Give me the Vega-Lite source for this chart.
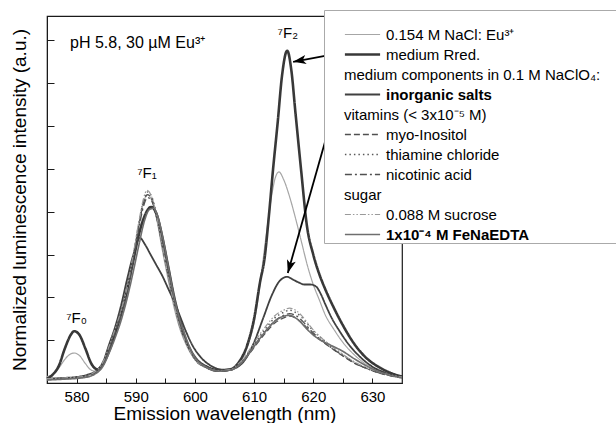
{
"$schema": "https://vega.github.io/schema/vega-lite/v6.json",
"width": 355, "height": 367,
"autosize": {"type": "none"},
"padding": {"left": 47, "top": 16, "right": 214, "bottom": 40},
"background": "white",
"config": {
 "font": "Liberation Sans",
 "view": {"stroke": "#1a1a1a", "strokeWidth": 1.2},
 "axis": {"domainColor": "#1a1a1a", "tickColor": "#1a1a1a", "grid": false, "labelColor": "black", "titleColor": "black", "labelFont": "Liberation Sans", "titleFont": "Liberation Sans", "titleFontWeight": "normal"},
 "legend": {"orient": "none", "legendX": 277, "legendY": -6, "titleFontSize": 8, "titlePadding": 9, "symbolType": "M-4.4,0H4.4", "symbolSize": 64, "symbolOffset": 31, "labelOffset": 16, "labelFontSize": 15, "labelFont": "Liberation Sans", "labelColor": "black", "labelLimit": 800, "rowPadding": 4, "padding": 0, "fillColor": "white", "strokeColor": "#aaaaaa"}
},
"datasets": {
 "spectra": [
{"series":"nacl","wavelength":575,"intensity":0.15},{"series":"nacl","wavelength":576,"intensity":0.2},{"series":"nacl","wavelength":577,"intensity":0.35},{"series":"nacl","wavelength":578,"intensity":0.55},{"series":"nacl","wavelength":579,"intensity":0.68},{"series":"nacl","wavelength":579.6,"intensity":0.7},{"series":"nacl","wavelength":580.5,"intensity":0.64},{"series":"nacl","wavelength":581.5,"intensity":0.45},{"series":"nacl","wavelength":582.5,"intensity":0.3},{"series":"nacl","wavelength":583.5,"intensity":0.27},{"series":"nacl","wavelength":584.5,"intensity":0.45},{"series":"nacl","wavelength":585.5,"intensity":0.8},{"series":"nacl","wavelength":586.5,"intensity":1.2},{"series":"nacl","wavelength":587.5,"intensity":1.6},{"series":"nacl","wavelength":588.5,"intensity":2.1},{"series":"nacl","wavelength":589.5,"intensity":2.9},{"series":"nacl","wavelength":590.5,"intensity":3.7},{"series":"nacl","wavelength":591.3,"intensity":4.2},{"series":"nacl","wavelength":591.9,"intensity":4.4},{"series":"nacl","wavelength":592.6,"intensity":4.3},{"series":"nacl","wavelength":593.5,"intensity":3.85},{"series":"nacl","wavelength":594.5,"intensity":3.1},{"series":"nacl","wavelength":595.5,"intensity":2.4},{"series":"nacl","wavelength":596.5,"intensity":1.75},{"series":"nacl","wavelength":597.5,"intensity":1.25},{"series":"nacl","wavelength":598.5,"intensity":0.9},{"series":"nacl","wavelength":600,"intensity":0.55},{"series":"nacl","wavelength":602,"intensity":0.35},{"series":"nacl","wavelength":604,"intensity":0.28},{"series":"nacl","wavelength":606,"intensity":0.3},{"series":"nacl","wavelength":607.5,"intensity":0.45},{"series":"nacl","wavelength":609,"intensity":0.9},{"series":"nacl","wavelength":610,"intensity":1.4},{"series":"nacl","wavelength":611,"intensity":2.3},{"series":"nacl","wavelength":612,"intensity":3.4},{"series":"nacl","wavelength":613,"intensity":4.4},{"series":"nacl","wavelength":613.6,"intensity":4.8},{"series":"nacl","wavelength":614.2,"intensity":4.93},{"series":"nacl","wavelength":615,"intensity":4.75},{"series":"nacl","wavelength":616,"intensity":4.35},{"series":"nacl","wavelength":617,"intensity":3.85},{"series":"nacl","wavelength":618,"intensity":3.3},{"series":"nacl","wavelength":619,"intensity":2.75},{"series":"nacl","wavelength":620,"intensity":2.3},{"series":"nacl","wavelength":621,"intensity":1.95},{"series":"nacl","wavelength":622,"intensity":1.6},{"series":"nacl","wavelength":623.5,"intensity":1.25},{"series":"nacl","wavelength":625,"intensity":0.95},{"series":"nacl","wavelength":627,"intensity":0.65},{"series":"nacl","wavelength":629,"intensity":0.43},{"series":"nacl","wavelength":631,"intensity":0.28},{"series":"nacl","wavelength":633,"intensity":0.2},{"series":"nacl","wavelength":635,"intensity":0.13},
{"series":"rred","wavelength":575,"intensity":0.1},{"series":"rred","wavelength":576,"intensity":0.2},{"series":"rred","wavelength":577,"intensity":0.4},{"series":"rred","wavelength":578,"intensity":0.8},{"series":"rred","wavelength":579,"intensity":1.12},{"series":"rred","wavelength":579.6,"intensity":1.21},{"series":"rred","wavelength":580.5,"intensity":1.12},{"series":"rred","wavelength":581.5,"intensity":0.8},{"series":"rred","wavelength":582.5,"intensity":0.45},{"series":"rred","wavelength":583.5,"intensity":0.32},{"series":"rred","wavelength":584.5,"intensity":0.45},{"series":"rred","wavelength":585.5,"intensity":0.75},{"series":"rred","wavelength":586.5,"intensity":1.15},{"series":"rred","wavelength":587.5,"intensity":1.6},{"series":"rred","wavelength":588.5,"intensity":2.15},{"series":"rred","wavelength":589.5,"intensity":2.8},{"series":"rred","wavelength":590.5,"intensity":3.45},{"series":"rred","wavelength":591.5,"intensity":3.9},{"series":"rred","wavelength":592.6,"intensity":4.11},{"series":"rred","wavelength":593.5,"intensity":3.95},{"series":"rred","wavelength":594.5,"intensity":3.4},{"series":"rred","wavelength":595.5,"intensity":2.7},{"series":"rred","wavelength":596.5,"intensity":2.0},{"series":"rred","wavelength":597.5,"intensity":1.45},{"series":"rred","wavelength":598.5,"intensity":1.0},{"series":"rred","wavelength":600,"intensity":0.6},{"series":"rred","wavelength":602,"intensity":0.38},{"series":"rred","wavelength":604,"intensity":0.3},{"series":"rred","wavelength":606,"intensity":0.32},{"series":"rred","wavelength":607.5,"intensity":0.5},{"series":"rred","wavelength":609,"intensity":0.95},{"series":"rred","wavelength":610,"intensity":1.5},{"series":"rred","wavelength":611,"intensity":2.35},{"series":"rred","wavelength":611.8,"intensity":2.94},{"series":"rred","wavelength":612.5,"intensity":3.9},{"series":"rred","wavelength":613.2,"intensity":4.98},{"series":"rred","wavelength":614,"intensity":6.1},{"series":"rred","wavelength":614.7,"intensity":7.15},{"series":"rred","wavelength":615.6,"intensity":7.76},{"series":"rred","wavelength":616.3,"intensity":7.3},{"series":"rred","wavelength":617,"intensity":6.3},{"series":"rred","wavelength":618,"intensity":4.9},{"series":"rred","wavelength":618.9,"intensity":3.7},{"series":"rred","wavelength":620,"intensity":3.0},{"series":"rred","wavelength":621,"intensity":2.55},{"series":"rred","wavelength":622,"intensity":2.2},{"series":"rred","wavelength":623.5,"intensity":1.75},{"series":"rred","wavelength":625,"intensity":1.35},{"series":"rred","wavelength":627,"intensity":0.9},{"series":"rred","wavelength":629,"intensity":0.58},{"series":"rred","wavelength":631,"intensity":0.38},{"series":"rred","wavelength":633,"intensity":0.24},{"series":"rred","wavelength":635,"intensity":0.15},
{"series":"inorg","wavelength":575,"intensity":0.1},{"series":"inorg","wavelength":578,"intensity":0.12},{"series":"inorg","wavelength":580,"intensity":0.14},{"series":"inorg","wavelength":582,"intensity":0.2},{"series":"inorg","wavelength":583.5,"intensity":0.3},{"series":"inorg","wavelength":584.5,"intensity":0.5},{"series":"inorg","wavelength":585.5,"intensity":0.9},{"series":"inorg","wavelength":586.5,"intensity":1.3},{"series":"inorg","wavelength":587.5,"intensity":1.8},{"series":"inorg","wavelength":588.5,"intensity":2.4},{"series":"inorg","wavelength":589.5,"intensity":2.95},{"series":"inorg","wavelength":590.7,"intensity":3.39},{"series":"inorg","wavelength":591.5,"intensity":3.25},{"series":"inorg","wavelength":592.5,"intensity":3.0},{"series":"inorg","wavelength":593.5,"intensity":2.75},{"series":"inorg","wavelength":594.5,"intensity":2.5},{"series":"inorg","wavelength":595.5,"intensity":2.2},{"series":"inorg","wavelength":596.5,"intensity":1.9},{"series":"inorg","wavelength":597.5,"intensity":1.55},{"series":"inorg","wavelength":598.5,"intensity":1.2},{"series":"inorg","wavelength":599.5,"intensity":0.9},{"series":"inorg","wavelength":601,"intensity":0.6},{"series":"inorg","wavelength":603,"intensity":0.38},{"series":"inorg","wavelength":605,"intensity":0.3},{"series":"inorg","wavelength":607,"intensity":0.36},{"series":"inorg","wavelength":608.5,"intensity":0.55},{"series":"inorg","wavelength":610,"intensity":0.95},{"series":"inorg","wavelength":611.5,"intensity":1.5},{"series":"inorg","wavelength":613,"intensity":2.05},{"series":"inorg","wavelength":614.3,"intensity":2.38},{"series":"inorg","wavelength":615.6,"intensity":2.48},{"series":"inorg","wavelength":616.5,"intensity":2.42},{"series":"inorg","wavelength":617.5,"intensity":2.35},{"series":"inorg","wavelength":618.5,"intensity":2.3},{"series":"inorg","wavelength":619.5,"intensity":2.3},{"series":"inorg","wavelength":620.5,"intensity":2.25},{"series":"inorg","wavelength":621.2,"intensity":2.1},{"series":"inorg","wavelength":622,"intensity":1.85},{"series":"inorg","wavelength":623,"intensity":1.55},{"series":"inorg","wavelength":624.5,"intensity":1.2},{"series":"inorg","wavelength":626,"intensity":0.9},{"series":"inorg","wavelength":628,"intensity":0.6},{"series":"inorg","wavelength":630,"intensity":0.38},{"series":"inorg","wavelength":632,"intensity":0.25},{"series":"inorg","wavelength":635,"intensity":0.14},
{"series":"myo","wavelength":575,"intensity":0.08},{"series":"myo","wavelength":578,"intensity":0.1},{"series":"myo","wavelength":581,"intensity":0.13},{"series":"myo","wavelength":583,"intensity":0.22},{"series":"myo","wavelength":584.5,"intensity":0.45},{"series":"myo","wavelength":585.5,"intensity":0.8},{"series":"myo","wavelength":586.5,"intensity":1.2},{"series":"myo","wavelength":587.5,"intensity":1.6},{"series":"myo","wavelength":588.5,"intensity":2.1},{"series":"myo","wavelength":589.5,"intensity":2.85},{"series":"myo","wavelength":590.5,"intensity":3.65},{"series":"myo","wavelength":591.3,"intensity":4.2},{"series":"myo","wavelength":592,"intensity":4.4},{"series":"myo","wavelength":592.7,"intensity":4.3},{"series":"myo","wavelength":593.5,"intensity":3.9},{"series":"myo","wavelength":594.5,"intensity":3.2},{"series":"myo","wavelength":595.5,"intensity":2.5},{"series":"myo","wavelength":596.5,"intensity":1.85},{"series":"myo","wavelength":597.5,"intensity":1.3},{"series":"myo","wavelength":598.5,"intensity":0.95},{"series":"myo","wavelength":600,"intensity":0.55},{"series":"myo","wavelength":602,"intensity":0.35},{"series":"myo","wavelength":604,"intensity":0.27},{"series":"myo","wavelength":606,"intensity":0.3},{"series":"myo","wavelength":607.5,"intensity":0.42},{"series":"myo","wavelength":609,"intensity":0.65},{"series":"myo","wavelength":610.5,"intensity":0.92},{"series":"myo","wavelength":612,"intensity":1.18},{"series":"myo","wavelength":613.5,"intensity":1.4},{"series":"myo","wavelength":615,"intensity":1.52},{"series":"myo","wavelength":616,"intensity":1.56},{"series":"myo","wavelength":617,"intensity":1.52},{"series":"myo","wavelength":618,"intensity":1.42},{"series":"myo","wavelength":619,"intensity":1.28},{"series":"myo","wavelength":620,"intensity":1.14},{"series":"myo","wavelength":621.5,"intensity":0.97},{"series":"myo","wavelength":623,"intensity":0.82},{"series":"myo","wavelength":625,"intensity":0.63},{"series":"myo","wavelength":627,"intensity":0.46},{"series":"myo","wavelength":629,"intensity":0.34},{"series":"myo","wavelength":631,"intensity":0.24},{"series":"myo","wavelength":633,"intensity":0.17},{"series":"myo","wavelength":635,"intensity":0.12},
{"series":"thia","wavelength":575,"intensity":0.09},{"series":"thia","wavelength":578,"intensity":0.11},{"series":"thia","wavelength":581,"intensity":0.14},{"series":"thia","wavelength":583,"intensity":0.23},{"series":"thia","wavelength":584.5,"intensity":0.47},{"series":"thia","wavelength":585.5,"intensity":0.82},{"series":"thia","wavelength":586.5,"intensity":1.22},{"series":"thia","wavelength":587.5,"intensity":1.63},{"series":"thia","wavelength":588.5,"intensity":2.15},{"series":"thia","wavelength":589.5,"intensity":2.9},{"series":"thia","wavelength":590.5,"intensity":3.7},{"series":"thia","wavelength":591.3,"intensity":4.25},{"series":"thia","wavelength":592,"intensity":4.46},{"series":"thia","wavelength":592.7,"intensity":4.35},{"series":"thia","wavelength":593.5,"intensity":3.95},{"series":"thia","wavelength":594.5,"intensity":3.25},{"series":"thia","wavelength":595.5,"intensity":2.55},{"series":"thia","wavelength":596.5,"intensity":1.9},{"series":"thia","wavelength":597.5,"intensity":1.33},{"series":"thia","wavelength":598.5,"intensity":0.97},{"series":"thia","wavelength":600,"intensity":0.56},{"series":"thia","wavelength":602,"intensity":0.36},{"series":"thia","wavelength":604,"intensity":0.28},{"series":"thia","wavelength":606,"intensity":0.31},{"series":"thia","wavelength":607.5,"intensity":0.45},{"series":"thia","wavelength":609,"intensity":0.7},{"series":"thia","wavelength":610.5,"intensity":1.0},{"series":"thia","wavelength":612,"intensity":1.28},{"series":"thia","wavelength":613.5,"intensity":1.52},{"series":"thia","wavelength":615,"intensity":1.65},{"series":"thia","wavelength":616,"intensity":1.7},{"series":"thia","wavelength":617,"intensity":1.65},{"series":"thia","wavelength":618,"intensity":1.54},{"series":"thia","wavelength":619,"intensity":1.38},{"series":"thia","wavelength":620,"intensity":1.22},{"series":"thia","wavelength":621.5,"intensity":1.03},{"series":"thia","wavelength":623,"intensity":0.86},{"series":"thia","wavelength":625,"intensity":0.66},{"series":"thia","wavelength":627,"intensity":0.48},{"series":"thia","wavelength":629,"intensity":0.35},{"series":"thia","wavelength":631,"intensity":0.25},{"series":"thia","wavelength":633,"intensity":0.18},{"series":"thia","wavelength":635,"intensity":0.13},
{"series":"nico","wavelength":575,"intensity":0.08},{"series":"nico","wavelength":578,"intensity":0.1},{"series":"nico","wavelength":581,"intensity":0.13},{"series":"nico","wavelength":583,"intensity":0.22},{"series":"nico","wavelength":584.5,"intensity":0.44},{"series":"nico","wavelength":585.5,"intensity":0.78},{"series":"nico","wavelength":586.5,"intensity":1.17},{"series":"nico","wavelength":587.5,"intensity":1.56},{"series":"nico","wavelength":588.5,"intensity":2.05},{"series":"nico","wavelength":589.5,"intensity":2.78},{"series":"nico","wavelength":590.5,"intensity":3.58},{"series":"nico","wavelength":591.3,"intensity":4.12},{"series":"nico","wavelength":592,"intensity":4.33},{"series":"nico","wavelength":592.7,"intensity":4.25},{"series":"nico","wavelength":593.5,"intensity":3.88},{"series":"nico","wavelength":594.5,"intensity":3.2},{"series":"nico","wavelength":595.5,"intensity":2.5},{"series":"nico","wavelength":596.5,"intensity":1.86},{"series":"nico","wavelength":597.5,"intensity":1.32},{"series":"nico","wavelength":598.5,"intensity":0.96},{"series":"nico","wavelength":600,"intensity":0.56},{"series":"nico","wavelength":602,"intensity":0.35},{"series":"nico","wavelength":604,"intensity":0.27},{"series":"nico","wavelength":606,"intensity":0.3},{"series":"nico","wavelength":607.5,"intensity":0.43},{"series":"nico","wavelength":609,"intensity":0.67},{"series":"nico","wavelength":610.5,"intensity":0.96},{"series":"nico","wavelength":612,"intensity":1.22},{"series":"nico","wavelength":613.5,"intensity":1.45},{"series":"nico","wavelength":615,"intensity":1.58},{"series":"nico","wavelength":616,"intensity":1.62},{"series":"nico","wavelength":617,"intensity":1.58},{"series":"nico","wavelength":618,"intensity":1.47},{"series":"nico","wavelength":619,"intensity":1.32},{"series":"nico","wavelength":620,"intensity":1.17},{"series":"nico","wavelength":621.5,"intensity":0.99},{"series":"nico","wavelength":623,"intensity":0.83},{"series":"nico","wavelength":625,"intensity":0.64},{"series":"nico","wavelength":627,"intensity":0.47},{"series":"nico","wavelength":629,"intensity":0.34},{"series":"nico","wavelength":631,"intensity":0.24},{"series":"nico","wavelength":633,"intensity":0.17},{"series":"nico","wavelength":635,"intensity":0.12},
{"series":"sucr","wavelength":575,"intensity":0.1},{"series":"sucr","wavelength":578,"intensity":0.12},{"series":"sucr","wavelength":581,"intensity":0.15},{"series":"sucr","wavelength":583,"intensity":0.25},{"series":"sucr","wavelength":584.5,"intensity":0.5},{"series":"sucr","wavelength":585.5,"intensity":0.86},{"series":"sucr","wavelength":586.5,"intensity":1.26},{"series":"sucr","wavelength":587.5,"intensity":1.68},{"series":"sucr","wavelength":588.5,"intensity":2.2},{"series":"sucr","wavelength":589.5,"intensity":2.95},{"series":"sucr","wavelength":590.5,"intensity":3.75},{"series":"sucr","wavelength":591.3,"intensity":4.3},{"series":"sucr","wavelength":591.9,"intensity":4.5},{"series":"sucr","wavelength":592.6,"intensity":4.38},{"series":"sucr","wavelength":593.5,"intensity":3.92},{"series":"sucr","wavelength":594.5,"intensity":3.2},{"series":"sucr","wavelength":595.5,"intensity":2.48},{"series":"sucr","wavelength":596.5,"intensity":1.82},{"series":"sucr","wavelength":597.5,"intensity":1.28},{"series":"sucr","wavelength":598.5,"intensity":0.93},{"series":"sucr","wavelength":600,"intensity":0.55},{"series":"sucr","wavelength":602,"intensity":0.36},{"series":"sucr","wavelength":604,"intensity":0.29},{"series":"sucr","wavelength":606,"intensity":0.32},{"series":"sucr","wavelength":607.5,"intensity":0.47},{"series":"sucr","wavelength":609,"intensity":0.73},{"series":"sucr","wavelength":610.5,"intensity":1.04},{"series":"sucr","wavelength":612,"intensity":1.33},{"series":"sucr","wavelength":613.5,"intensity":1.57},{"series":"sucr","wavelength":615,"intensity":1.7},{"series":"sucr","wavelength":616,"intensity":1.75},{"series":"sucr","wavelength":617,"intensity":1.7},{"series":"sucr","wavelength":618,"intensity":1.58},{"series":"sucr","wavelength":619,"intensity":1.41},{"series":"sucr","wavelength":620,"intensity":1.24},{"series":"sucr","wavelength":621.5,"intensity":1.04},{"series":"sucr","wavelength":623,"intensity":0.87},{"series":"sucr","wavelength":625,"intensity":0.67},{"series":"sucr","wavelength":627,"intensity":0.49},{"series":"sucr","wavelength":629,"intensity":0.36},{"series":"sucr","wavelength":631,"intensity":0.26},{"series":"sucr","wavelength":633,"intensity":0.19},{"series":"sucr","wavelength":635,"intensity":0.14},
{"series":"fe","wavelength":575,"intensity":0.07},{"series":"fe","wavelength":578,"intensity":0.09},{"series":"fe","wavelength":581,"intensity":0.12},{"series":"fe","wavelength":583,"intensity":0.2},{"series":"fe","wavelength":584.5,"intensity":0.4},{"series":"fe","wavelength":585.5,"intensity":0.7},{"series":"fe","wavelength":586.5,"intensity":1.05},{"series":"fe","wavelength":587.5,"intensity":1.45},{"series":"fe","wavelength":588.5,"intensity":1.95},{"series":"fe","wavelength":589.5,"intensity":2.55},{"series":"fe","wavelength":590.5,"intensity":3.2},{"series":"fe","wavelength":591.5,"intensity":3.8},{"series":"fe","wavelength":592.3,"intensity":4.05},{"series":"fe","wavelength":593,"intensity":4.08},{"series":"fe","wavelength":593.8,"intensity":3.85},{"series":"fe","wavelength":594.7,"intensity":3.3},{"series":"fe","wavelength":595.6,"intensity":2.65},{"series":"fe","wavelength":596.5,"intensity":2.0},{"series":"fe","wavelength":597.5,"intensity":1.45},{"series":"fe","wavelength":598.5,"intensity":1.05},{"series":"fe","wavelength":600,"intensity":0.6},{"series":"fe","wavelength":602,"intensity":0.37},{"series":"fe","wavelength":604,"intensity":0.28},{"series":"fe","wavelength":606,"intensity":0.3},{"series":"fe","wavelength":607.5,"intensity":0.42},{"series":"fe","wavelength":609,"intensity":0.66},{"series":"fe","wavelength":610.5,"intensity":0.95},{"series":"fe","wavelength":612,"intensity":1.22},{"series":"fe","wavelength":613.5,"intensity":1.44},{"series":"fe","wavelength":615,"intensity":1.56},{"series":"fe","wavelength":616,"intensity":1.58},{"series":"fe","wavelength":617,"intensity":1.52},{"series":"fe","wavelength":618,"intensity":1.4},{"series":"fe","wavelength":619,"intensity":1.25},{"series":"fe","wavelength":620,"intensity":1.12},{"series":"fe","wavelength":621.5,"intensity":0.98},{"series":"fe","wavelength":623,"intensity":0.88},{"series":"fe","wavelength":625,"intensity":0.74},{"series":"fe","wavelength":627,"intensity":0.56},{"series":"fe","wavelength":629,"intensity":0.4},{"series":"fe","wavelength":631,"intensity":0.27},{"series":"fe","wavelength":633,"intensity":0.18},{"series":"fe","wavelength":635,"intensity":0.12}
 ]
},
"encoding": {
 "x": {"field": "wavelength", "type": "quantitative", "scale": {"domain": [575, 635], "nice": false, "zero": false},
  "axis": {"title": "Emission wavelength (nm)", "titleFontSize": 19, "values": [580,585,590,595,600,605,610,615,620,625,630], "labelExpr": "datum.value % 10 == 0 ? datum.label : ''", "tickSize": -5, "labelFontSize": 15, "labelPadding": 11, "titlePadding": 0, "labelFlush": false}},
 "y": {"field": "intensity", "type": "quantitative", "scale": {"domain": [0, 8.57], "nice": false, "zero": false},
  "axis": {"title": "Normalized luminescence intensity (a.u.)", "titleFontSize": 19, "values": [1,2,3,4,5,6,7,8], "labels": false, "tickSize": -7, "titlePadding": 17}}
},
"layer": [
 {"data": {"name": "spectra"},
  "mark": {"type": "line", "interpolate": "monotone", "strokeCap": "butt"},
  "encoding": {
   "color": {"field": "series", "type": "nominal",
    "scale": {"domain": ["nacl","rred","h1","inorg","h2","myo","thia","nico","h3","sucr","fe"],
              "range": ["#a6a6a6","#383838","rgba(0,0,0,0)","#404040","rgba(0,0,0,0)","#505050","#5a5a5a","#505050","rgba(0,0,0,0)","#9a9a9a","#6e6e6e"]},
    "legend": {"title": " ",
     "labelExpr": "{'nacl':'0.154 M NaCl: Eu³⁺','rred':'medium Rred.','h1':'','inorg':'','h2':'','myo':'myo-Inositol','thia':' thiamine chloride','nico':' nicotinic acid','h3':'\u2800\u00a0\u00a0\u00a0\u00a0\u00a0\u00a0\u00a0\u00a0\u00a0\u00a0\u00a0\u00a0\u00a0\u00a0\u00a0\u00a0\u00a0\u00a0\u00a0\u00a0\u00a0\u00a0\u00a0\u00a0\u00a0\u00a0\u00a0\u00a0\u00a0\u00a0\u00a0\u00a0\u00a0\u00a0\u00a0\u00a0\u00a0\u00a0\u00a0\u00a0\u00a0\u00a0\u00a0\u00a0\u00a0\u00a0\u00a0\u00a0\u00a0\u00a0\u00a0\u00a0\u00a0\u00a0\u00a0\u00a0\u00a0\u2800','sucr':'0.088 M sucrose','fe':''}[datum.value]"}},
   "strokeDash": {"field": "series", "type": "nominal",
    "scale": {"domain": ["nacl","rred","h1","inorg","h2","myo","thia","nico","h3","sucr","fe"],
              "range": [[1,0],[1,0],[1,0],[1,0],[1,0],[6,3],[1.5,3],[7,3,2,3],[1,0],[6,2,1.5,2,1.5,2],[1,0]]}},
   "strokeWidth": {"field": "series", "type": "nominal",
    "scale": {"type": "ordinal", "domain": ["nacl","rred","h1","inorg","h2","myo","thia","nico","h3","sucr","fe"],
              "range": [1.2,2.6,0,1.8,0,1.3,1.5,1.3,0,1.2,1.6]}},
   "opacity": {"field": "series", "type": "nominal",
    "scale": {"type": "ordinal", "domain": ["nacl","rred","h1","inorg","h2","myo","thia","nico","h3","sucr","fe","xo"],
              "range": [1,1,1,1,1,1,1,1,1,1,1,1]},
    "legend": {"title": " ", "zindex": 1, "symbolSize": 0, "symbolOffset": 0, "labelOffset": 5, "fillColor": "rgba(0,0,0,0)", "strokeColor": "rgba(0,0,0,0)",
     "labelExpr": "{'h1':'medium components in 0.1 M NaClO₄:','h2':'vitamins (< 3x10⁻⁵ M)','h3':'sugar'}[datum.value] || ''"}}
  }},
 {"data": {"name": "spectra"},
  "mark": {"type": "point", "opacity": 0, "size": 0},
  "encoding": {
   "shape": {"field": "series", "type": "nominal",
    "scale": {"domain": ["nacl","rred","h1","inorg","h2","myo","thia","nico","h3","sucr","fe","xs"],
              "range": ["circle","circle","circle","circle","circle","circle","circle","circle","circle","circle","circle","circle"]},
    "legend": {"title": " ", "zindex": 1, "symbolSize": 0, "symbolOpacity": 0, "labelFontWeight": "bold", "fillColor": "rgba(0,0,0,0)", "strokeColor": "rgba(0,0,0,0)",
     "labelExpr": "{'inorg':'inorganic salts','fe':'1x10⁻⁴ M FeNaEDTA'}[datum.value] || ''"}}
  }},
 {"data": {"values": [{"wavelength": 624.0, "intensity": 7.69, "wavelength2": 616.6, "intensity2": 7.5}, {"wavelength": 624.0, "intensity": 6.61, "wavelength2": 615.7, "intensity2": 2.57}]},
  "mark": {"type": "rule", "color": "black", "strokeWidth": 1.8},
  "encoding": {"x2": {"field": "wavelength2"}, "y2": {"field": "intensity2"}}},
 {"data": {"values": [{"wavelength": 616.6, "intensity": 7.5}]},
  "mark": {"type": "point", "shape": "M0,0L-0.35,1L0,0.75L0.35,1Z", "size": 676, "angle": 260, "filled": true, "color": "black", "opacity": 1, "strokeWidth": 0}},
 {"data": {"values": [{"wavelength": 615.7, "intensity": 2.57}]},
  "mark": {"type": "point", "shape": "M0,0L-0.35,1L0,0.75L0.35,1Z", "size": 676, "angle": 196, "filled": true, "color": "black", "opacity": 1, "strokeWidth": 0}},
 {"data": {"values": [{"note": "pH 5.8, 30 µM Eu³⁺", "wavelength": 578.9, "intensity": 7.94}]},
  "mark": {"type": "text", "align": "left", "baseline": "middle", "fontSize": 16, "color": "black"},
  "encoding": {"text": {"field": "note", "type": "nominal"}}},
 {"data": {"values": [{"note": "⁷F₂", "wavelength": 615.7, "intensity": 8.18}, {"note": "⁷F₁", "wavelength": 591.9, "intensity": 4.9}, {"note": "⁷F₀", "wavelength": 580.0, "intensity": 1.52}]},
  "mark": {"type": "text", "align": "center", "baseline": "middle", "fontSize": 15, "color": "black"},
  "encoding": {"text": {"field": "note", "type": "nominal"}}}
]
}
